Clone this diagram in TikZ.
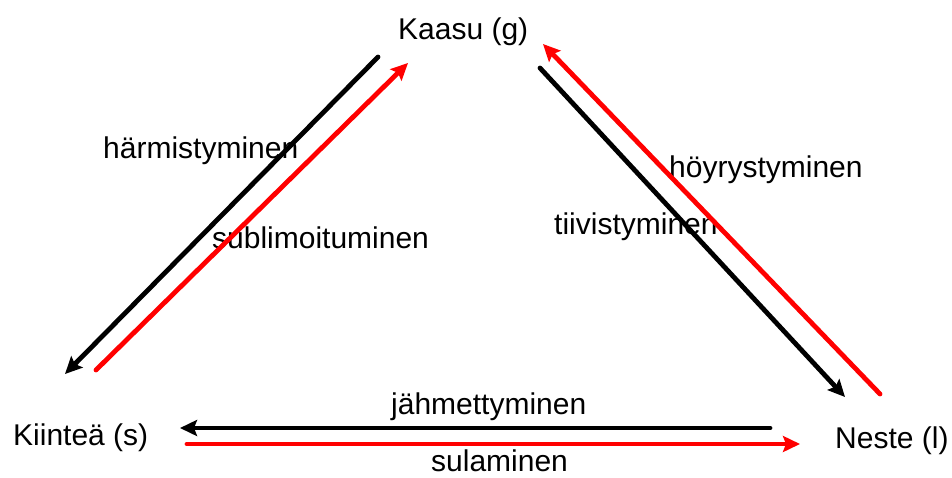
\documentclass[tikz,border=0pt]{standalone}
\usepackage{fontspec}
\setmainfont{Liberation Sans}
\usetikzlibrary{arrows.meta}
\begin{document}
\begin{tikzpicture}[x=1pt,y=-1pt,
  lbl/.style={anchor=base west,inner sep=0pt,font=\fontsize{30}{34}\selectfont},
  conn/.style={line width=4.8pt,line cap=round,-{Stealth[length=17pt,width=16pt,inset=3pt]}},
  blk/.style={conn,black},
  rd/.style={conn,red}]
\useasboundingbox (0,0) rectangle (952,477);
% state labels
\node[lbl] (kaasu) at (398,39) {Kaasu (g)};
\node[lbl] (kiintea) at (13,445) {Kiinteä (s)};
\node[lbl] (neste) at (835,448) {Neste (l)};
% process labels
\node[lbl] (harm) at (103,158) {härmistyminen};
\node[lbl] (subl) at (212,248) {sublimoituminen};
\node[lbl] (hoyr) at (669,177) {höyrystyminen};
\node[lbl] (tiiv) at (554,234) {tiivistyminen};
\node[lbl] (jahm) at (391,414) {jähmettyminen};
\node[lbl] (sula) at (431,471) {sulaminen};
% arrow end points
\coordinate (h1) at (378,57);  \coordinate (h2) at (65,374);
\coordinate (s1) at (96,370);  \coordinate (s2) at (408,63);
\coordinate (y1) at (880,394); \coordinate (y2) at (543,44);
\coordinate (t1) at (540,68);  \coordinate (t2) at (845,397);
\coordinate (j1) at (770,428); \coordinate (j2) at (180,428);
\coordinate (u1) at (187,444); \coordinate (u2) at (800,444);
% connectors
\draw[blk] (h1) -- (h2);
\draw[rd]  (s1) -- (s2);
\draw[rd]  (y1) -- (y2);
\draw[blk] (t1) -- (t2);
\draw[blk] (j1) -- (j2);
\draw[rd]  (u1) -- (u2);
\end{tikzpicture}
\end{document}
